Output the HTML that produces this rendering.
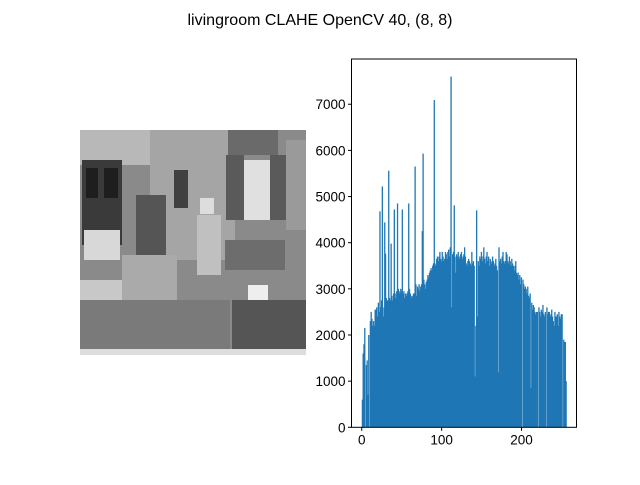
<!DOCTYPE html>
<html><head><meta charset="utf-8"><style>
body{margin:0;background:#fff;}
svg text{font-family:"Liberation Sans","DejaVu Sans",sans-serif;}
</style></head><body>
<svg id="fig" width="640" height="480" viewBox="0 0 640 480">
<rect width="640" height="480" fill="#fff"/>
<text x="320" y="25" text-anchor="middle" font-size="16" fill="#000">livingroom CLAHE OpenCV 40, (8, 8)</text>
<g>
<rect x="80" y="130" width="226" height="225" fill="#8a8a8a"/>
<rect x="80" y="130" width="70" height="35" fill="#b8b8b8"/>
<rect x="82" y="160" width="40" height="85" fill="#3a3a3a"/>
<rect x="86" y="168" width="12" height="30" fill="#1e1e1e"/>
<rect x="104" y="168" width="14" height="30" fill="#1e1e1e"/>
<rect x="150" y="130" width="85" height="130" fill="#a5a5a5"/>
<rect x="174" y="170" width="14" height="38" fill="#404040"/>
<rect x="228" y="130" width="50" height="25" fill="#6a6a6a"/>
<rect x="226" y="155" width="18" height="65" fill="#5a5a5a"/>
<rect x="244" y="160" width="26" height="60" fill="#e0e0e0"/>
<rect x="270" y="155" width="16" height="65" fill="#5a5a5a"/>
<rect x="286" y="140" width="20" height="90" fill="#9a9a9a"/>
<rect x="136" y="195" width="30" height="60" fill="#555"/>
<rect x="142" y="255" width="16" height="50" fill="#bbb"/>
<rect x="197" y="215" width="24" height="60" fill="#c0c0c0"/>
<rect x="200" y="198" width="14" height="16" fill="#ddd"/>
<rect x="84" y="230" width="36" height="30" fill="#d8d8d8"/>
<rect x="80" y="280" width="42" height="65" fill="#c8c8c8"/>
<rect x="122" y="255" width="55" height="45" fill="#aaa"/>
<rect x="225" y="240" width="60" height="30" fill="#6d6d6d"/>
<rect x="80" y="300" width="150" height="55" fill="#7a7a7a"/>
<rect x="232" y="300" width="74" height="50" fill="#555"/>
<rect x="248" y="285" width="20" height="15" fill="#eee"/>
<rect x="80" y="349" width="226" height="6" fill="#ddd"/>
</g>
<g id="hist"></g>
</svg>
<script>
const counts = [
600,1600,1800,2150,0,1350,1450,700,2000,0,
2300,2500,2350,2200,2300,2200,2550,2550,2600,2400,
2700,2500,4680,2600,2750,5220,2400,2600,4440,3760,
2800,2750,2750,5560,2800,2750,3980,2850,2750,2900,
4720,2900,2800,2950,4850,3000,2950,2900,3000,2950,
4720,2900,2950,2800,2900,2850,2900,2950,4850,3000,
2900,2850,2800,2850,2900,2900,5650,3100,2850,3050,
3000,3100,2950,3050,3100,4250,5930,3200,3100,3000,
3150,3200,3300,3250,3350,3400,3450,3400,3500,3550,
7090,3550,3500,3650,3700,3600,3700,3800,3650,3600,
3800,3700,3600,3650,3800,3750,3650,3800,3850,3700,
3900,7600,2600,3750,3800,4810,3700,3350,3750,3700,
3800,3650,3700,3750,3800,3650,3700,3750,3900,3700,
3550,3500,3600,3650,3600,3550,3500,3800,3550,3600,
3500,1100,2200,4700,2400,3600,3500,3700,3650,3800,
3600,3700,3900,3650,3550,3700,3800,3600,3700,3500,
3650,3600,3550,3700,3600,3500,3550,3650,3500,3400,
1190,3900,3600,3650,3550,3700,3800,3600,3550,3600,
3800,3750,3600,3550,3700,3600,3500,3650,3550,3500,
3400,3500,3600,3350,3300,3350,3200,3300,3100,3250,
0,3200,3100,3000,3050,3000,2900,3050,2850,2800,
2900,850,2700,2550,2650,2600,2500,2450,2500,2500,
0,2600,2500,2400,2550,2500,2650,2450,2400,2500,
0,2600,2450,2500,2500,2400,2450,2550,2400,2300,
2200,2500,2400,2400,2450,2200,2500,2400,2350,2450,
2450,0,1900,1850,1850,1000];
const xTicks = [0,100,200];
const yTicks = [0,1000,2000,3000,4000,5000,6000,7000];
const NS='http://www.w3.org/2000/svg';
const g=document.getElementById('hist');
const L=351.5,R=576.5,T=59,B=427.3;
const xmin=-12.8,xmax=268.8;
const ymax=Math.max(...counts)*1.05;
const sx=v=>L+(v-xmin)/(xmax-xmin)*(R-L);
const sy=v=>B-v/ymax*(B-T);
function mk(t,a){const e=document.createElementNS(NS,t);for(const k in a)e.setAttribute(k,a[k]);g.appendChild(e);return e;}
counts.forEach((c,i)=>{
  if(c<=0)return;
  const r=mk('rect',{x:sx(i),y:sy(c),width:sx(i+1)-sx(i)+0.5,height:B-sy(c),fill:'#1f77b4'});
  
  
});
const f=mk('rect',{x:L,y:T,width:R-L,height:B-T,fill:'none',stroke:'#000','stroke-width':1});


xTicks.forEach(v=>{
  const x=sx(v);
  const l=mk('line',{x1:x,x2:x,y1:B,y2:B+3.5,stroke:'#000'});
  
  
  const t=mk('text',{x:x,y:B+17,'text-anchor':'middle','font-size':'13.5'});
  t.textContent=v;
  
  
});
yTicks.forEach(v=>{
  const y=sy(v);
  const l=mk('line',{x1:L-3.5,x2:L,y1:y,y2:y,stroke:'#000'});
  
  
  const t=mk('text',{x:L-6,y:y+5,'text-anchor':'end','font-size':'13.5'});
  t.textContent=v;
  
  
});
</script>
</body></html>
